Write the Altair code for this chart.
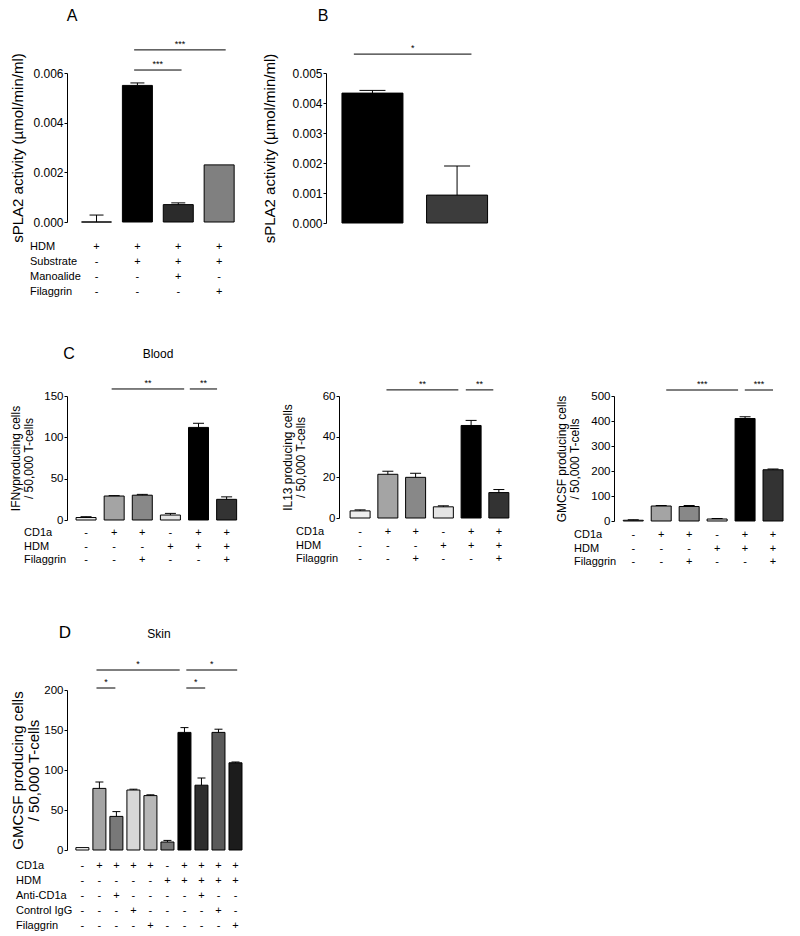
import json
import altair as alt
import pandas as pd

SANS = "Liberation Sans, Arial, Helvetica, sans-serif"

# ---------------- Panel A ----------------
A_vals = [0.0, 0.0055, 0.0007, 0.0023]
A_errs = [0.00028, 0.0001, 0.00007, 0.0]
A_colors = ["#ffffff", "#000000", "#2b2b2b", "#808080"]
A_rows = ["HDM", "Substrate", "Manoalide", "Filaggrin"]
A_signs = ["++++", "-+++", "--+-", "---+"]
A_sig_from = [1.92, 1.92]
A_sig_to = [4.16, 3.08]
A_sig_level = [0.00693, 0.00612]
A_sig_text = ["***", "***"]
A_yticks = [0.0, 0.002, 0.004, 0.006]

# ---------------- Panel B ----------------
B_vals = [0.00433, 0.00093]
B_errs = [0.00009, 0.00097]
B_colors = ["#000000", "#3c3c3c"]
B_labels = [["HDM blister fluid"], ["HDM blister fluid +", "Filaggrin"]]
B_sig_from = [0.78]
B_sig_to = [2.17]
B_sig_level = [0.00563]
B_sig_text = ["*"]
B_yticks = [0.0, 0.001, 0.002, 0.003, 0.004, 0.005]

# ---------------- Panel C (Blood) ----------------
C_rows = ["CD1a", "HDM", "Filaggrin"]
C_signs = ["-++-++", "---+++", "--+--+"]
C_colors = ["#eeeeee", "#a4a4a4", "#888888", "#e4e4e4", "#000000", "#333333"]

C1_vals = [3, 29, 30, 6, 112, 25]
C1_errs = [1, 0.5, 1, 2, 5, 3]
C1_sig_from = [1.91, 4.69]
C1_sig_to = [4.49, 5.66]
C1_sig_level = [158.5, 158.5]
C1_sig_text = ["**", "**"]
C1_yticks = [0, 50, 100, 150]

C2_vals = [3.5, 21.5, 20, 5.5, 45.5, 12.5]
C2_errs = [0.5, 1.5, 2, 0.5, 2.5, 1.5]
C2_sig_from = [1.95, 4.81]
C2_sig_to = [4.54, 5.8]
C2_sig_level = [63, 63]
C2_sig_text = ["**", "**"]
C2_yticks = [0, 20, 40, 60]

C3_vals = [3, 60, 58, 8, 410, 205]
C3_errs = [2, 2, 4, 2, 7, 3]
C3_sig_from = [2.18, 4.99]
C3_sig_to = [4.75, 6.0]
C3_sig_level = [524, 524]
C3_sig_text = ["***", "***"]
C3_yticks = [0, 100, 200, 300, 400, 500]

# ---------------- Panel D (Skin) ----------------
D_rows = ["CD1a", "HDM", "Anti-CD1a", "Control IgG", "Filaggrin"]
D_signs = ["-++++-++++", "-----+++++", "--+----+--", "---+----+-", "----+----+"]
D_vals = [3, 77, 42, 75, 68, 10, 147, 81, 147, 109]
D_errs = [0, 8, 6, 1, 1, 2, 6, 9, 4, 1]
D_colors = ["#ffffff", "#a4a4a4", "#787878", "#d8d8d8", "#b8b8b8",
            "#787878", "#000000", "#2e2e2e", "#5a5a5a", "#1c1c1c"]
D_sig_from = [1.83, 7.11, 1.83, 7.11]
D_sig_to = [6.72, 10.1, 2.94, 8.22]
D_sig_level = [225, 225, 202.5, 202.5]
D_sig_text = ["*", "*", "*", "*"]
D_yticks = [0, 50, 100, 150, 200]


def make_panel(vals, errs, colors, ymax, yticks, yfmt, ytitle, width, height, xdom,
               bar_w, cap_w, sig_from, sig_to, sig_level, sig_text,
               label_size, title_size, title_pad, title_lh=14,
               rows=None, signs=None, row_top=0, row_step=15, row_dx=-40, row_size=11,
               xlabels=None, dashed=False, notes=(), xticks=True):
    n = len(vals)
    idx = list(range(1, n + 1))
    bars_df = pd.DataFrame({"i": idx, "v": vals, "e": errs, "c": colors})
    bars_df["top"] = bars_df["v"] + bars_df["e"]
    xs = alt.Scale(domain=xdom, nice=False, zero=False)
    ys = alt.Scale(domain=[0, ymax], nice=False, zero=True)

    xaxis_kw = dict(values=idx, title=None, grid=False, ticks=xticks, tickSize=4,
                    labelFlush=False, labelOverlap=False)
    if dashed:
        xaxis_kw["domainDash"] = [2, 1.5]
    if xlabels is None:
        xaxis_kw["labels"] = False
    else:
        expr = json.dumps(xlabels[-1])
        for k in reversed(range(len(xlabels) - 1)):
            expr = f"datum.value == {k + 1} ? {json.dumps(xlabels[k])} : ({expr})"
        xaxis_kw.update(labelExpr=expr, labelFontSize=10, labelPadding=6,
                        labelLineHeight=14)

    yaxis = alt.Axis(values=yticks, format=yfmt, title=ytitle, grid=False,
                     tickSize=3, labelPadding=1, labelFontSize=label_size,
                     titleFontSize=title_size, titlePadding=title_pad,
                     titleLineHeight=title_lh, labelFlush=False)

    layers = []
    layers.append(
        alt.Chart(bars_df).mark_bar(size=bar_w, stroke="black", strokeWidth=1).encode(
            x=alt.X("i:Q", scale=xs, axis=alt.Axis(**xaxis_kw)),
            y=alt.Y("v:Q", scale=ys, axis=yaxis),
            fill=alt.Fill("c:N", scale=None, legend=None),
        )
    )
    err_df = bars_df[bars_df["e"] > 0]
    layers.append(
        alt.Chart(err_df).mark_rule(color="black", strokeWidth=1).encode(
            x=alt.X("i:Q", scale=xs, axis=None),
            y=alt.Y("v:Q", scale=ys, axis=None),
            y2="top:Q",
        )
    )
    layers.append(
        alt.Chart(err_df).mark_tick(color="black", orient="horizontal", size=cap_w,
                                    thickness=1, opacity=1).encode(
            x=alt.X("i:Q", scale=xs, axis=None),
            y=alt.Y("top:Q", scale=ys, axis=None),
        )
    )
    sig_df = pd.DataFrame({"x1": sig_from, "x2": sig_to, "y": sig_level, "t": sig_text})
    sig_df["xm"] = (sig_df["x1"] + sig_df["x2"]) / 2
    layers.append(
        alt.Chart(sig_df).mark_rule(color="black", strokeWidth=1).encode(
            x=alt.X("x1:Q", scale=xs, axis=None),
            x2="x2:Q",
            y=alt.Y("y:Q", scale=ys, axis=None),
        )
    )
    layers.append(
        alt.Chart(sig_df).mark_text(fontSize=9, baseline="bottom", dy=-1, font=SANS,
                                    color="black").encode(
            x=alt.X("xm:Q", scale=xs, axis=None),
            y=alt.Y("y:Q", scale=ys, axis=None),
            text="t:N",
        )
    )
    if rows is not None:
        tbl = pd.DataFrame([{"i": i + 1, "r": k, "s": signs[k][i]}
                            for k in range(len(rows)) for i in range(n)])
        tscale = alt.Scale(domain=[0, len(rows) - 1],
                           range=[height + row_top, height + row_top + row_step * (len(rows) - 1)],
                           nice=False, zero=False)
        layers.append(
            alt.Chart(tbl).mark_text(fontSize=row_size, font=SANS, color="black").encode(
                x=alt.X("i:Q", scale=xs, axis=None),
                y=alt.Y("r:Q", scale=tscale, axis=None),
                text="s:N",
            )
        )
        lab = pd.DataFrame({"r": list(range(len(rows))), "name": rows})
        layers.append(
            alt.Chart(lab).mark_text(fontSize=row_size, font=SANS, align="left",
                                     color="black").encode(
                x=alt.value(row_dx),
                y=alt.Y("r:Q", scale=tscale, axis=None),
                text="name:N",
            )
        )
    for (txt, dx, dy, size) in notes:
        layers.append(
            alt.Chart(pd.DataFrame({"t": [txt]})).mark_text(
                fontSize=size, font=SANS, align="center", baseline="middle", color="black"
            ).encode(x=alt.value(dx), y=alt.value(dy), text="t:N")
        )
    return alt.layer(*layers).resolve_scale(y="independent").properties(
        width=width, height=height)


sPLA2 = "sPLA2 activity (µmol/min/ml)"

A = make_panel(A_vals, A_errs, A_colors, 0.006, A_yticks, ".3f", sPLA2, 178, 149,
               [0.4, 4.51], 30, 14, A_sig_from, A_sig_to, A_sig_level, A_sig_text,
               label_size=12, title_size=15, title_pad=7,
               rows=A_rows, signs=A_signs, row_top=25, row_step=15, row_dx=-37,
               row_size=11, dashed=True, notes=[("A", 5, -57, 16)])

B = make_panel(B_vals, B_errs, B_colors, 0.005, B_yticks, ".3f", sPLA2, 175, 150,
               [0.51, 2.46], 61, 26, B_sig_from, B_sig_to, B_sig_level, B_sig_text,
               label_size=12, title_size=15, title_pad=14,
               xlabels=B_labels, xticks=False, notes=[("B", -3, -57, 16)])

C1 = make_panel(C1_vals, C1_errs, C_colors, 150, C1_yticks, "d",
                ["IFNγproducing cells", "/ 50,000 T-cells"], 177, 124,
                [0.5, 6.44], 20, 11, C1_sig_from, C1_sig_to, C1_sig_level, C1_sig_text,
                label_size=11.5, title_size=12, title_pad=8, title_lh=13,
                rows=C_rows, signs=C_signs, row_top=13, row_step=13.5, row_dx=-43,
                notes=[("C", 2, -42, 16), ("Blood", 91, -42, 12)])

C2 = make_panel(C2_vals, C2_errs, C_colors, 60, C2_yticks, "d",
                ["IL13 producing cells", "/ 50,000 T-cells"], 179, 122,
                [0.42, 6.51], 20, 11, C2_sig_from, C2_sig_to, C2_sig_level, C2_sig_text,
                label_size=11.5, title_size=12, title_pad=15, title_lh=13,
                rows=C_rows, signs=C_signs, row_top=14, row_step=13.5, row_dx=-43)

C3 = make_panel(C3_vals, C3_errs, C_colors, 500, C3_yticks, "d",
                ["GMCSF producing cells", "/ 50,000 T-cells"], 178, 125,
                [0.49, 6.5], 20, 11, C3_sig_from, C3_sig_to, C3_sig_level, C3_sig_text,
                label_size=11.5, title_size=12, title_pad=9, title_lh=13,
                rows=C_rows, signs=C_signs, row_top=14, row_step=13.5, row_dx=-40)

D = make_panel(D_vals, D_errs, D_colors, 200, D_yticks, "d",
               ["GMCSF producing cells", "/ 50,000 T-cells"], 182, 160,
               [0.39, 10.5], 13, 8, D_sig_from, D_sig_to, D_sig_level, D_sig_text,
               label_size=11.5, title_size=15, title_pad=2, title_lh=16,
               rows=D_rows, signs=D_signs, row_top=16, row_step=15, row_dx=-51,
               row_size=11, notes=[("D", -2, -57, 17), ("Skin", 92, -56, 12)])

row1 = alt.hconcat(A, B, spacing=17)
row2 = alt.hconcat(C1, C2, C3, spacing=37)
lower = alt.vconcat(row2, D, spacing=57)

chart = alt.vconcat(row1, lower, spacing=49).properties(
    padding={"left": 1, "top": 0, "right": 0, "bottom": 0},
    background="white",
).configure(font=SANS).configure_view(stroke=None).configure_axis(
    labelFont=SANS, titleFont=SANS, labelColor="black", titleColor="black",
    titleFontWeight="normal", domainColor="black", tickColor="black",
    domainWidth=1, tickWidth=1,
)

chart.save("out.html", embed_options={"renderer": "svg", "actions": False})
